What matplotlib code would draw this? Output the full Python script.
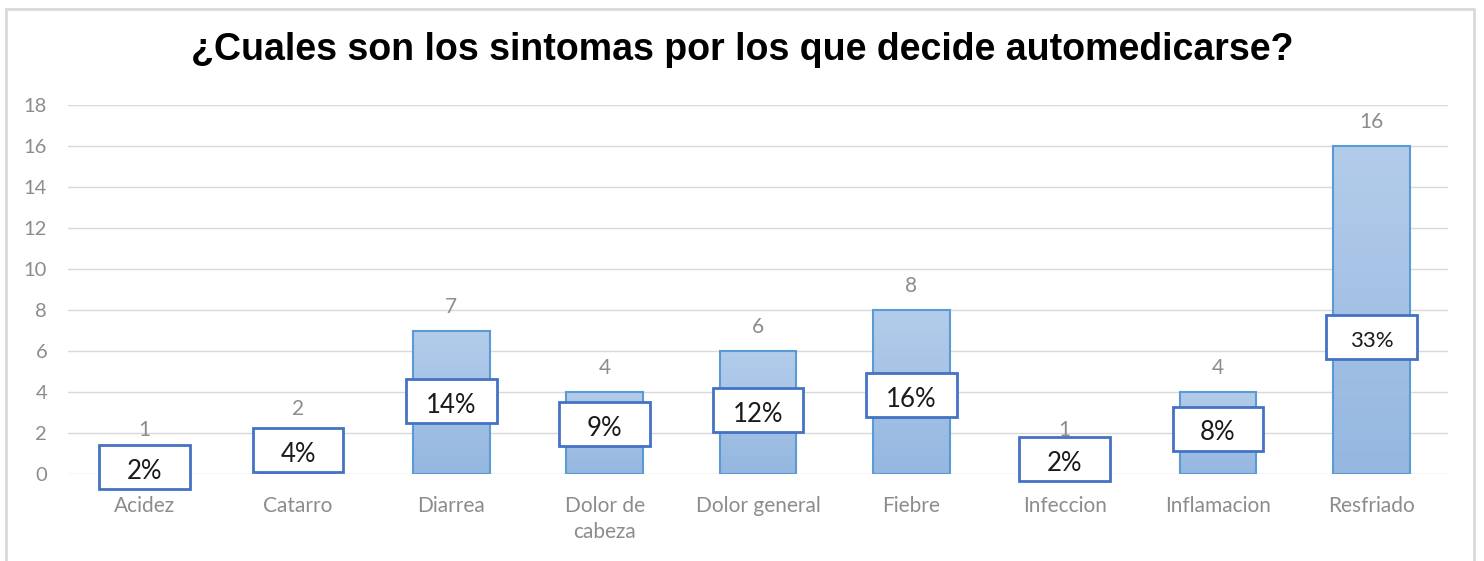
import matplotlib
matplotlib.use("Agg")
import matplotlib.pyplot as plt
from matplotlib.patches import Rectangle
import numpy as np

# datos
categorias = ["Acidez", "Catarro", "Diarrea", "Dolor de\ncabeza", "Dolor general",
              "Fiebre", "Infeccion", "Inflamacion", "Resfriado"]
valores = [1, 2, 7, 4, 6, 8, 1, 4, 16]
porcentajes = ["2%", "4%", "14%", "9%", "12%", "16%", "2%", "8%", "33%"]

# posicion vertical (centro) de cada cuadro de porcentaje, en unidades del eje
pos_cuadro = [0.34, 1.17, 3.56, 2.44, 3.12, 3.85, 0.73, 2.2, 6.7]
tam_pct = [18.5, 18.5, 18.5, 18.5, 18.5, 18.5, 18.5, 18.5, 16]

fig = plt.figure(figsize=(14.84, 5.61), dpi=100)
ax = fig.add_axes([68 / 1484, 1 - 474 / 561, 1380 / 1484, 369 / 561])

# marco exterior gris
fig.patches.append(Rectangle((6 / 1484, -0.01), 1468 / 1484, 1 - 9 / 561 + 0.01,
                             transform=fig.transFigure, fill=False,
                             ec="#D9D9D9", lw=2))

x = np.arange(len(valores))
ancho = 0.5
barras = ax.bar(x, valores, width=ancho, color="none", edgecolor="#5B9BD5",
                linewidth=1.5, zorder=3)

# degradado dentro de cada barra
grad = np.linspace(0, 1, 256).reshape(-1, 1)
cmap = matplotlib.colors.LinearSegmentedColormap.from_list("az", ["#95B7E0", "#B3CCEA"])
for b in barras:
    x0, y0 = b.get_x(), b.get_y()
    im = ax.imshow(grad, extent=[x0, x0 + b.get_width(), y0, y0 + b.get_height()],
                   origin="lower", aspect="auto", cmap=cmap, zorder=2)
    im.set_clip_path(b)

# etiquetas de valor
for xi, v in zip(x, valores):
    ax.annotate(str(v), (xi, v), xytext=(0, 10), textcoords="offset points",
                ha="center", va="bottom", fontsize=15, color="#8C8C8C",
                family="Lato")

# cuadros con porcentaje
cw, ch = 0.59, 2.15
for xi, yc, p, fs in zip(x, pos_cuadro, porcentajes, tam_pct):
    ax.add_patch(Rectangle((xi - cw / 2, yc - ch / 2), cw, ch, fc="white",
                           ec="#4472C4", lw=2, zorder=5, clip_on=False))
    ax.text(xi, yc - 0.2, p, ha="center", va="center", fontsize=fs,
            color="#1A1A1A", family="Lato", zorder=6, clip_on=False)

ax.set_xlim(-0.5, len(valores) - 0.5)
ax.set_ylim(0, 18)
ax.set_yticks(range(0, 19, 2))
ax.set_xticks(x)
ax.set_xticklabels(categorias, fontsize=15, color="#8C8C8C", family="Lato",
                   linespacing=1.35)
for t in ax.get_yticklabels():
    t.set_fontsize(14.5)
    t.set_color("#8C8C8C")
    t.set_family("Lato")
ax.tick_params(axis="both", length=0)
ax.tick_params(axis="y", pad=15)
ax.tick_params(axis="x", pad=16)
ax.grid(axis="y", color="#D9D9D9", linewidth=1)
ax.set_axisbelow(True)
for s in ax.spines.values():
    s.set_visible(False)

fig.text(0.5, 1 - 50 / 561, "¿Cuales son los sintomas por los que decide automedicarse?",
         ha="center", va="center", fontsize=27, fontweight="bold",
         family="Liberation Sans")

fig.savefig("out.png", dpi=100)
